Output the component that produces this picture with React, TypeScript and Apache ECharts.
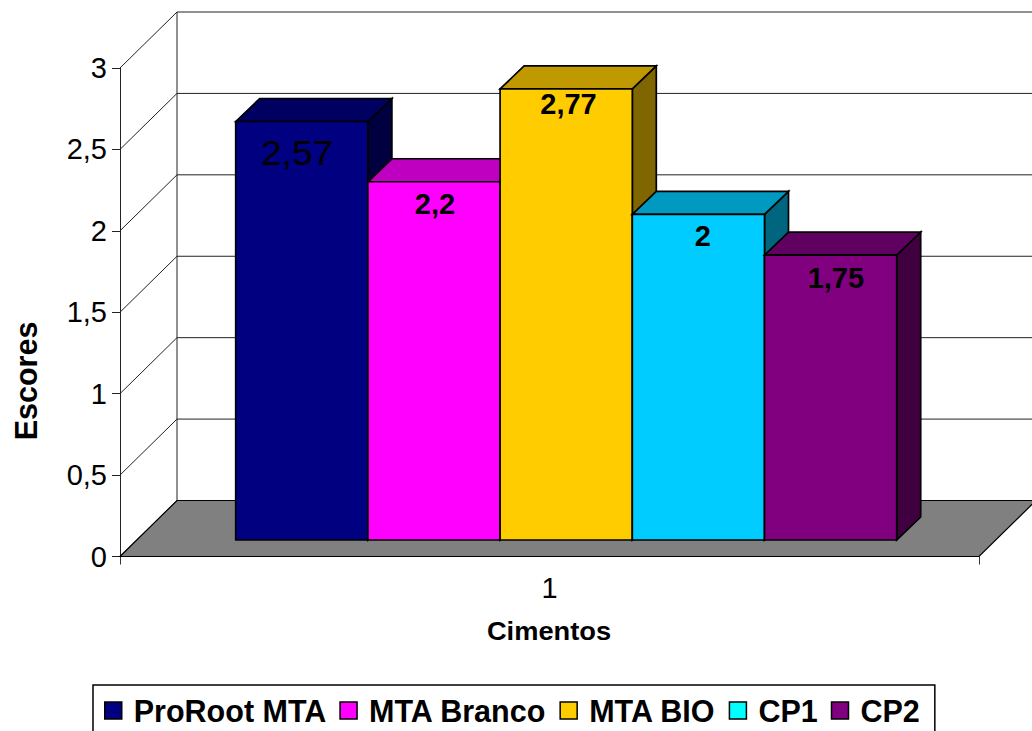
import React, { useEffect, useRef } from "react";
import * as echarts from "echarts";

const categories = ["1"];
const seriesNames = ["ProRoot MTA", "MTA Branco", "MTA BIO", "CP1", "CP2"];
const seriesValues = [2.57, 2.2, 2.77, 2, 1.75];
const faceColors = ["#000080", "#FF00FF", "#FFCC00", "#00CCFF", "#800080"];
const legendColors = ["#000080", "#FF00FF", "#FFCC00", "#00FFFF", "#800080"];
const topColors = ["#000060", "#C000C0", "#C09900", "#0099C0", "#600060"];
const sideColors = ["#000040", "#800080", "#806600", "#006680", "#400040"];
const yTicks = [0, 0.5, 1, 1.5, 2, 2.5, 3];

const FONT = '"Liberation Sans", Arial, sans-serif';
const WALL_DX = 57;
const WALL_DY = 56;
const FRONT_DX = 16.7;
const FRONT_DY = 16.5;
const BAR_DX = 24;
const BAR_DY = 23;
const BAR_FRACTION = 661 / 859 / 5;

const labelStyles = [
  { font: `normal 35px ${FONT}`, dy: 31, dx: -4.7, scaleX: 1.06 },
  { font: `bold 29px ${FONT}`, dy: 22, dx: 1, scaleX: 1 },
  { font: `bold 29px ${FONT}`, dy: 15, dx: 2.3, scaleX: 1 },
  { font: `bold 29px ${FONT}`, dy: 22, dx: 4.3, scaleX: 1 },
  { font: `bold 29px ${FONT}`, dy: 23, dx: 5.3, scaleX: 1 },
];

const edge = { stroke: "#000", lineWidth: 1.7 };

function floorItem(_p: any, api: any) {
  const band = api.size([1, 0])[0];
  const c = api.coord([0, 0]);
  const l = c[0] - band / 2;
  const r = c[0] + band / 2;
  const y = c[1];
  return {
    type: "polygon",
    silent: true,
    shape: {
      points: [
        [l, y],
        [r, y],
        [r + WALL_DX, y - WALL_DY],
        [l + WALL_DX, y - WALL_DY],
      ],
    },
    style: { fill: "#808080", stroke: "#000", lineWidth: 1.2 },
  };
}

function gridItem(_p: any, api: any) {
  const band = api.size([1, 0])[0];
  const c0 = api.coord([0, 0]);
  const c = api.coord([0, api.value(0)]);
  const l = c0[0] - band / 2;
  const r = c0[0] + band / 2;
  const y = c[1];
  return {
    type: "polyline",
    silent: true,
    shape: {
      points: [
        [l, y],
        [l + WALL_DX, y - WALL_DY],
        [r + WALL_DX, y - WALL_DY],
      ],
    },
    style: { fill: "none", stroke: "#222", lineWidth: 1 },
  };
}

function wallVertical(_p: any, api: any) {
  const band = api.size([1, 0])[0];
  const c0 = api.coord([0, 0]);
  const t = api.coord([0, yTicks[yTicks.length - 1]]);
  const x = c0[0] - band / 2 + WALL_DX;
  return {
    type: "line",
    silent: true,
    shape: { x1: x, y1: c0[1] - WALL_DY, x2: x, y2: t[1] - WALL_DY },
    style: { stroke: "#222", lineWidth: 1 },
  };
}

function barRenderer(i: number) {
  return (_p: any, api: any) => {
    const band = api.size([1, 0])[0];
    const base = api.coord([0, 0]);
    const top = api.coord([0, api.value(1)]);
    const w = band * BAR_FRACTION;
    const x0 = base[0] + FRONT_DX - (w * seriesNames.length) / 2 + i * w;
    const x1 = x0 + w;
    const yb = base[1] - FRONT_DY;
    const yt = top[1] - FRONT_DY;
    const ls = labelStyles[i];
    return {
      type: "group",
      silent: true,
      children: [
        {
          type: "polygon",
          shape: { points: [[x1, yt], [x1 + BAR_DX, yt - BAR_DY], [x1 + BAR_DX, yb - BAR_DY], [x1, yb]] },
          style: { fill: sideColors[i], ...edge },
        },
        {
          type: "polygon",
          shape: { points: [[x0, yt], [x0 + BAR_DX, yt - BAR_DY], [x1 + BAR_DX, yt - BAR_DY], [x1, yt]] },
          style: { fill: topColors[i], ...edge },
        },
        {
          type: "rect",
          shape: { x: x0, y: yt, width: w, height: yb - yt },
          style: { fill: faceColors[i], ...edge },
        },
        {
          type: "text",
          x: (x0 + x1) / 2 + ls.dx,
          y: yt + ls.dy,
          scaleX: ls.scaleX,
          style: {
            text: String(api.value(1)).replace(".", ","),
            x: 0,
            y: 0,
            font: ls.font,
            fill: "#000",
            align: "center",
            verticalAlign: "middle",
          },
        },
      ],
    };
  };
}

export default function App() {
  const ref = useRef<HTMLDivElement>(null);
  useEffect(() => {
    document.body.style.margin = "0";
    const chart = echarts.init(ref.current!, undefined, { renderer: "svg" });
    chart.setOption({
      animation: false,
      backgroundColor: "#fff",
      grid: { left: 120, right: 53, top: 68, height: 488.5, outerBoundsMode: "none" },
      legend: {
        show: true,
        left: 93,
        top: 685,
        data: seriesNames,
        icon: "rect",
        itemWidth: 17,
        itemHeight: 17,
        itemGap: 13,
        padding: [10, 15, 12, 11],
        borderColor: "#000",
        borderWidth: 1.5,
        selectedMode: false,
        itemStyle: { borderColor: "#000", borderWidth: 1.5 },
        textStyle: { fontFamily: FONT, fontWeight: "bold", fontSize: 30.5, color: "#000", padding: [0, 0, 0, 7] },
      },
      graphic: [
        {
          type: "text",
          x: 25.5,
          y: 381,
          rotation: Math.PI / 2,
          style: {
            text: "Escores",
            font: `bold 30.5px ${FONT}`,
            fill: "#000",
            align: "center",
            verticalAlign: "middle",
            x: 0,
            y: 0,
          },
        },
        {
          type: "text",
          x: 549,
          y: 631,
          scaleX: 1.07,
          style: {
            text: "Cimentos",
            font: `bold 25.5px ${FONT}`,
            fill: "#000",
            align: "center",
            verticalAlign: "middle",
            x: 0,
            y: 0,
          },
        },
      ],
      xAxis: {
        type: "category",
        data: categories,
        axisLine: { show: true, lineStyle: { color: "#000", width: 1 } },
        axisTick: { show: true, length: 8, lineStyle: { color: "#333" } },
        axisLabel: { fontFamily: FONT, fontSize: 29, color: "#000", margin: 17 },
      },
      yAxis: {
        type: "value",
        min: 0,
        max: 3,
        interval: 0.5,
        axisLine: { show: true, lineStyle: { color: "#222", width: 1 } },
        axisTick: { show: true, length: 8, lineStyle: { color: "#222" } },
        axisLabel: {
          fontFamily: FONT,
          fontSize: 29,
          color: "#000",
          margin: 13,
          formatter: (v: number) => String(v).replace(".", ","),
        },
        splitLine: { show: false },
      },
      series: [
        { type: "custom", name: "wallVertical", z: 1, data: [[0]], renderItem: wallVertical, tooltip: { show: false } },
        { type: "custom", name: "gridlines", z: 1, data: yTicks.map((v) => [v]), renderItem: gridItem },
        { type: "custom", name: "floor", z: 1, data: [[0]], renderItem: floorItem },
        ...seriesNames.map((name, i) => ({
          type: "custom",
          name,
          z: 2 + i,
          itemStyle: { color: legendColors[i] },
          data: [[0, seriesValues[i]]],
          encode: { x: 0, y: 1 },
          renderItem: barRenderer(i),
        })),
      ],
    });
    return () => chart.dispose();
  }, []);
  return <div ref={ref} style={{ width: 1032, height: 731 }} />;
}
